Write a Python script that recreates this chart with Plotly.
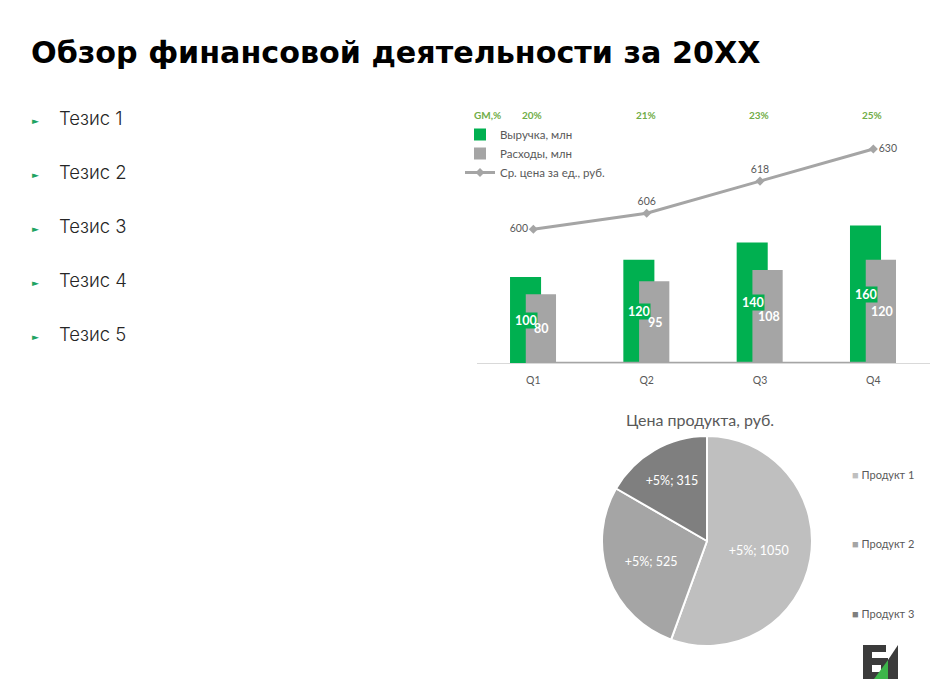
import plotly.graph_objects as go

W, H = 930, 692

# ---------------- data ----------------
quarters = ["Q1", "Q2", "Q3", "Q4"]
revenue = [100, 120, 140, 160]          # Выручка, млн
expenses = [80, 95, 108, 120]           # Расходы, млн
avg_price = [600, 606, 618, 630]        # Ср. цена за ед., руб.
gm_values = [0.20, 0.21, 0.23, 0.25]    # GM,%
gm_labels = ["20%", "21%", "23%", "25%"]

products = ["Продукт 1", "Продукт 2", "Продукт 3"]
product_price = [1050, 525, 315]
product_labels = ["+5%; 1050", "+5%; 525", "+5%; 315"]

theses = ["Тезис 1", "Тезис 2", "Тезис 3", "Тезис 4", "Тезис 5"]

title_text = "Обзор финансовой деятельности за 20XX"
pie_title = "Цена продукта, руб."

# ---------------- helpers ----------------
def px(x):
    return x / W

def py(y):
    return 1 - y / H

GREEN = "#00B050"
GRAY_BAR = "#A5A5A5"
TXT = "#595959"
CF = "Lato"

GREEN_OFF, GREEN_W = -0.206, 0.274
GRAY_OFF, GRAY_W = -0.067, 0.267
CAT_PX = (W - 476.7) / 4.0

fig = go.Figure()

# GM line near zero (behind bars)
fig.add_trace(go.Scatter(
    x=quarters, y=gm_values, mode="lines",
    line=dict(color="#A5A5A5", width=2),
    showlegend=False, hoverinfo="skip"))

fig.add_trace(go.Bar(
    x=quarters, y=revenue, name="Выручка, млн",
    marker=dict(color=GREEN, line=dict(width=0)),
    offset=GREEN_OFF, width=GREEN_W))

fig.add_trace(go.Bar(
    x=quarters, y=expenses, name="Расходы, млн",
    marker=dict(color=GRAY_BAR, line=dict(width=0)),
    offset=GRAY_OFF, width=GRAY_W))

fig.add_trace(go.Scatter(
    x=quarters, y=avg_price, name="Ср. цена за ед., руб.", yaxis="y2",
    mode="lines+markers+text",
    line=dict(color="#A5A5A5", width=3),
    marker=dict(symbol="diamond", size=7, color="#A5A5A5"),
    text=[str(v) for v in avg_price],
    textposition=["middle left", "top center", "top center", "middle right"],
    textfont=dict(color=TXT, size=10.5, family=CF)))

fig.add_trace(go.Pie(
    labels=products, values=product_price, text=product_labels,
    textinfo="text", textposition="inside", insidetextorientation="horizontal",
    sort=False, direction="clockwise", rotation=0,
    marker=dict(colors=["#BFBFBF", "#A5A5A5", "#7F7F7F"],
                line=dict(color="white", width=2)),
    textfont=dict(color="white", size=12.5, family=CF),
    domain=dict(x=[px(602), px(812)], y=[py(646), py(436)]),
    showlegend=False, hoverinfo="label+value"))

annotations = []

# green labels (with green background over the gray bars)
for q, v in zip(quarters, revenue):
    annotations.append(dict(
        x=q, y=v / 2, xref="x", yref="y", text="<b>%d</b>" % v, showarrow=False,
        xshift=(GREEN_OFF + GREEN_W / 2) * CAT_PX + 0.5, bgcolor=GREEN, borderpad=0,
        font=dict(color="white", size=12.5, family=CF)))
# gray labels on top
for q, v in zip(quarters, expenses):
    annotations.append(dict(
        x=q, y=v / 2, xref="x", yref="y", text="<b>%d</b>" % v, showarrow=False,
        xshift=(GRAY_OFF + GRAY_W / 2) * CAT_PX + 1, borderpad=0,
        font=dict(color="white", size=12.5, family=CF)))

# GM row
annotations.append(dict(
    x=px(472), y=py(115), xref="paper", yref="paper", xanchor="left",
    yanchor="middle", text="<b>GM,%</b>", showarrow=False,
    font=dict(color="#70AD47", size=10, family=CF)))
for q, g in zip(quarters, gm_labels):
    annotations.append(dict(
        x=q, y=py(115), xref="x", yref="paper", yanchor="middle",
        text="<b>%s</b>" % g, xshift=-1,
        showarrow=False, font=dict(color="#70AD47", size=10, family=CF)))

# title
annotations.append(dict(
    x=px(29), y=py(53), xref="paper", yref="paper", xanchor="left",
    yanchor="middle", text="<b>%s</b>" % title_text, showarrow=False,
    font=dict(color="#000000", size=30.2, family="DejaVu Sans")))

# bullets
for i, t in enumerate(theses):
    yc = 118 + 54 * i
    annotations.append(dict(
        x=px(30), y=py(yc + 3), xref="paper", yref="paper", xanchor="left",
        yanchor="middle", text="►", showarrow=False,
        font=dict(color="#1FA463", size=9, family="DejaVu Sans")))
    annotations.append(dict(
        x=px(57), y=py(yc), xref="paper", yref="paper", xanchor="left",
        yanchor="middle", text=t, showarrow=False,
        font=dict(color="#262626", size=18.5, family="Inter", weight=300)))

# pie title
annotations.append(dict(
    x=px(700), y=py(419), xref="paper", yref="paper", xanchor="center",
    yanchor="middle", text=pie_title, showarrow=False,
    font=dict(color=TXT, size=16, family=CF)))

# pie legend
pie_cols = ["#BFBFBF", "#A5A5A5", "#7F7F7F"]
for i, (p, c) in enumerate(zip(products, pie_cols)):
    yc = 474 + 69.5 * i
    annotations.append(dict(
        x=px(850), y=py(yc), xref="paper", yref="paper", xanchor="left",
        yanchor="middle",
        text="<span style='color:%s'>■</span> %s" % (c, p), showarrow=False,
        font=dict(color=TXT, size=11, family=CF)))

# logo shapes
def path(pts):
    return "M" + " L".join("%f,%f" % (px(x), py(y)) for x, y in pts) + " Z"

DARK = "#3B3B3B"
shapes = [
    dict(type="path", xref="paper", yref="paper", line=dict(width=0), fillcolor=DARK,
         path=path([(863, 645), (886, 645), (886, 652), (872, 652), (872, 679), (863, 679)])),
    dict(type="path", xref="paper", yref="paper", line=dict(width=0), fillcolor=DARK,
         path=path([(863, 658), (888, 658), (888, 679), (863, 679)])),
    dict(type="path", xref="paper", yref="paper", line=dict(width=0), fillcolor="white",
         path=path([(872, 665), (881, 665), (881, 672), (872, 672)])),
    dict(type="path", xref="paper", yref="paper", line=dict(width=0), fillcolor="#3DB54A",
         path=path([(874, 679), (888, 660), (888, 679)])),
    dict(type="path", xref="paper", yref="paper", line=dict(width=0), fillcolor=DARK,
         path=path([(888, 660), (898, 645), (898, 679), (888, 679)])),
]

fig.update_layout(
    width=W, height=H, margin=dict(l=0, r=0, t=0, b=0),
    paper_bgcolor="white", plot_bgcolor="rgba(0,0,0,0)",
    barmode="overlay", showlegend=True,
    legend=dict(x=px(460), y=py(120), xanchor="left", yanchor="top",
                font=dict(color=TXT, size=11.5, family=CF),
                bgcolor="rgba(0,0,0,0)", tracegroupgap=0, traceorder="normal"),
    xaxis=dict(domain=[px(476.7), 1.0], range=[-0.5, 3.5], type="category",
               showline=True, linecolor="#D9D9D9", linewidth=1, ticks="",
               showgrid=False, zeroline=False, ticklabelstandoff=7,
               tickfont=dict(color=TXT, size=10.5, family=CF)),
    yaxis=dict(domain=[py(363), py(105)], range=[0, 258 / 0.86], visible=False,
               showgrid=False, zeroline=False),
    yaxis2=dict(overlaying="y", range=[550.06, 646.43], visible=False,
                showgrid=False, zeroline=False),
    annotations=annotations, shapes=shapes,
    font=dict(family=CF),
)

fig.write_html("out.html")
